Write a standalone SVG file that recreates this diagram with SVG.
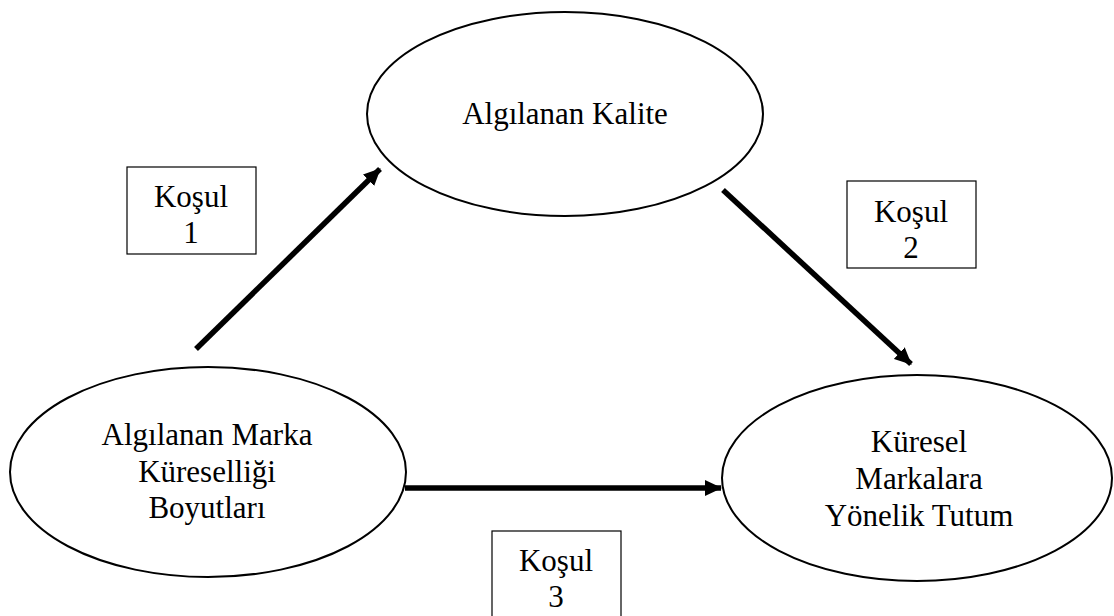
<svg xmlns="http://www.w3.org/2000/svg" width="1114" height="616" viewBox="0 0 1114 616">
  <defs>
    <marker id="head" markerUnits="userSpaceOnUse" markerWidth="18" markerHeight="16" refX="16" refY="8" orient="auto">
      <path d="M0,0 L17,8 L0,16 z" fill="#000"/>
    </marker>
    <style>
      .node { fill: #fff; stroke: #000; stroke-width: 2; }
      .box { fill: #fff; stroke: #000; stroke-width: 1.2; }
      .label { font-family: "Liberation Serif", "Times New Roman", serif; font-size: 31px; fill: #000; text-anchor: middle; }
      .edge { stroke: #000; stroke-width: 5.5; fill: none; marker-end: url(#head); }
    </style>
  </defs>
  <rect width="1114" height="616" fill="#fff"/>

  <!-- connectors -->
  <g id="connectors">
    <line class="edge" x1="196" y1="349" x2="380" y2="169"/>
    <line class="edge" x1="723" y1="190" x2="911" y2="364"/>
    <line class="edge" x1="405" y1="488" x2="721" y2="488"/>
  </g>

  <g id="node-kalite">
    <ellipse class="node" cx="565" cy="114" rx="198" ry="102"/>
    <text class="label" x="565" y="124">Algılanan Kalite</text>
  </g>

  <g id="node-marka">
    <ellipse class="node" cx="208" cy="472" rx="198" ry="105"/>
    <text class="label" x="207" y="445">Algılanan Marka</text>
    <text class="label" x="207" y="482">Küreselliği</text>
    <text class="label" x="207" y="518">Boyutları</text>
  </g>

  <g id="node-tutum">
    <ellipse class="node" cx="917" cy="478" rx="195" ry="103"/>
    <text class="label" x="919" y="452">Küresel</text>
    <text class="label" x="919" y="489">Markalara</text>
    <text class="label" x="919" y="526">Yönelik Tutum</text>
  </g>

  <g id="kosul-1">
    <rect class="box" x="127" y="167" width="129" height="87"/>
    <text class="label" x="191" y="207">Koşul</text>
    <text class="label" x="191" y="243">1</text>
  </g>

  <g id="kosul-2">
    <rect class="box" x="847" y="181" width="129" height="87"/>
    <text class="label" x="911" y="222">Koşul</text>
    <text class="label" x="911" y="258">2</text>
  </g>

  <g id="kosul-3">
    <rect class="box" x="492" y="531" width="129" height="87"/>
    <text class="label" x="556" y="571">Koşul</text>
    <text class="label" x="556" y="607">3</text>
  </g>
</svg>
